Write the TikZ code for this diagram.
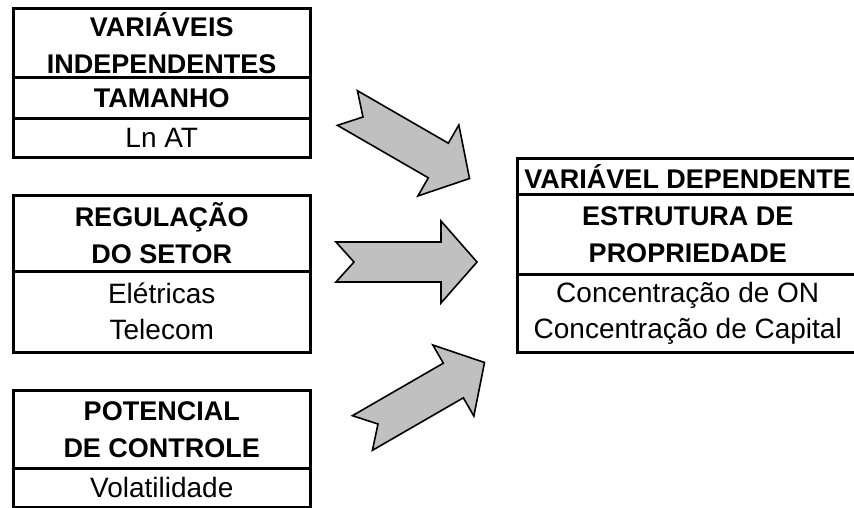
\documentclass[tikz,border=0pt]{standalone}
\usepackage{fontspec}
\setmainfont{Liberation Sans}
\definecolor{arrowgray}{HTML}{C0C0C0}
\begin{document}
\begin{tikzpicture}[x=1pt, y=-1pt,
  cell/.style={draw=black, line width=2.5pt, inner sep=0pt, align=center,
    anchor=north west, font=\fontsize{28}{36}\selectfont},
  leftcell/.style={cell, minimum width=297pt},
  rightcell/.style={cell, minimum width=341pt},
  head/.style={font=\fontsize{27}{37}\selectfont\bfseries},
  bigarrow/.style={fill=arrowgray, draw=black, line width=1.6pt, line join=miter},
  pics/fatarrow/.style={code={
    \draw[bigarrow] (-18,20) -- (87,20) -- (87,41) -- (123,0) -- (87,-41)
      -- (87,-20) -- (-18,-20) -- (0,0) -- cycle;}}]
\useasboundingbox (0,0) rectangle (854,507);

% independent variables: size
\node[leftcell, head, minimum height=69pt] (indep) at (12,7) {VARIÁVEIS\\INDEPENDENTES};
\node[leftcell, head, minimum height=41pt] (tam) at (12,76) {TAMANHO};
\node[leftcell, minimum height=39pt] (lnat) at (12,117) {Ln AT};

% sector regulation
\node[leftcell, head, minimum height=76pt] (reg) at (12,194) {REGULAÇÃO\\DO SETOR};
\node[leftcell, minimum height=81pt] (setores) at (12,270) {Elétricas\\Telecom};

% control potential
\node[leftcell, head, minimum height=78pt] (pot) at (12,389) {POTENCIAL\\DE CONTROLE};
\node[leftcell, minimum height=39pt] (vol) at (12,467) {Volatilidade};

% dependent variable
\node[rightcell, head, minimum height=36pt] (dep) at (516,157) {VARIÁVEL DEPENDENTE};
\node[rightcell, head, minimum height=80pt] (estr) at (516,193) {ESTRUTURA DE\\PROPRIEDADE};
\node[rightcell, minimum height=78pt] (conc) at (516,273) {Concentração de ON\\Concentração de Capital};

% block arrows pointing at the dependent variable
\coordinate (a1) at (363,117);
\coordinate (a2) at (354,262);
\coordinate (a3) at (378,424);
\pic[rotate=-30] at (a1) {fatarrow};
\pic at (a2) {fatarrow};
\pic[rotate=30] at (a3) {fatarrow};
\end{tikzpicture}
\end{document}
